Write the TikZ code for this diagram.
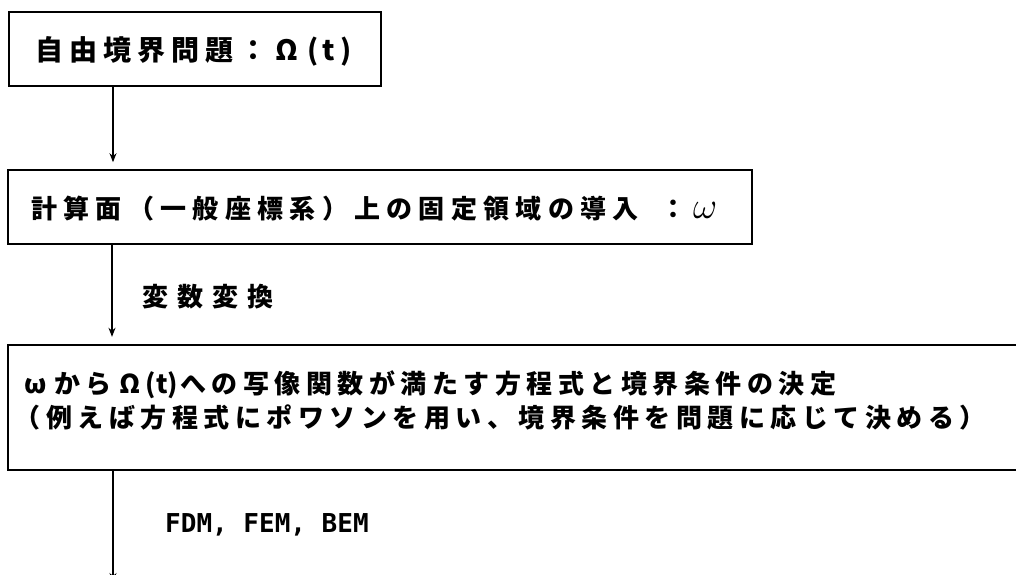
\documentclass[tikz,border=0pt]{standalone}
\usepackage{graphicx}
\usepackage{fontspec}
\setmainfont{Noto Sans CJK JP}
\newfontfamily\jpfont{Noto Sans CJK JP}
\newfontfamily\monofont{DejaVu Sans Mono}
\usetikzlibrary{arrows.meta}
\makeatletter
\newcommand\cells[2]{\def\cellw{#1}\cells@loop#2\relax}
\def\cells@loop#1{\ifx\relax#1\else\makebox[\cellw][c]{#1}\expandafter\cells@loop\fi}
\makeatother
\begin{document}
\begin{tikzpicture}[x=1pt,y=-1pt]
\tikzset{
  box/.style={draw, line width=1.6pt, inner sep=0pt},
  openbox/.style={inner sep=0pt},
  lbl/.style={inner sep=0pt, anchor=base west, font=\jpfont\bfseries\fontsize{26}{30}\selectfont},
  monolbl/.style={inner sep=0pt, anchor=base west, font=\monofont\bfseries\fontsize{26}{30}\selectfont},
  arr/.style={line width=1.3pt, -{Stealth[length=9pt,width=7pt]}},
}
\useasboundingbox (0,0) rectangle (1016,574);
% boxes
\node[box, minimum width=372pt, minimum height=74pt] (b1) at (195,49) {};
\node[box, minimum width=744pt, minimum height=74pt] (b2) at (380,207) {};
\node[openbox, minimum width=1008pt, minimum height=125pt] (b3) at (512,407.5) {};
\draw[line width=1.6pt, line join=miter] (b3.north east) -- (b3.north west) -- (b3.south west) -- (b3.south east);
% texts
\node[lbl, font=\jpfont\bfseries\fontsize{28}{32}\selectfont] (t1) at (32,60) {\cells{34pt}{自由境界問題：Ω{\kern16pt(\,t\,)}}};
\node[lbl] (t2) at (28,218) {\cells{32.3pt}{計算面（一般座標系）上の固定領域の導入}};
\node[lbl] (t2b) at (657,218) {\cells{32pt}{：{\scalebox{1.5}{$\omega$}}}};
\node[lbl] (t3a) at (20,393) {\cells{31.5pt}{ωからΩ{(t)}への写像関数が満たす方程式と境界条件の決定}};
\node[lbl] (t3b) at (12,427) {\cells{31.5pt}{（例えば方程式にポワソンを用い、境界条件を問題に応じて決める）}};
\node[lbl] (lab1) at (137.5,306) {\cells{35pt}{変数変換}};
\node[monolbl] (lab2) at (165,532) {FDM, FEM, BEM};
% connectors
\coordinate (ax) at (113,0);
\coordinate (ax2) at (112,0);
\coordinate (end) at (113,582);
\draw[arr, shorten >=7pt] (b1.south -| ax) -- (b2.north -| ax);
\draw[arr, shorten >=8pt] (b2.south -| ax2) -- (b3.north -| ax2);
\draw[arr] (b3.south -| ax) -- (end);
\end{tikzpicture}
\end{document}
